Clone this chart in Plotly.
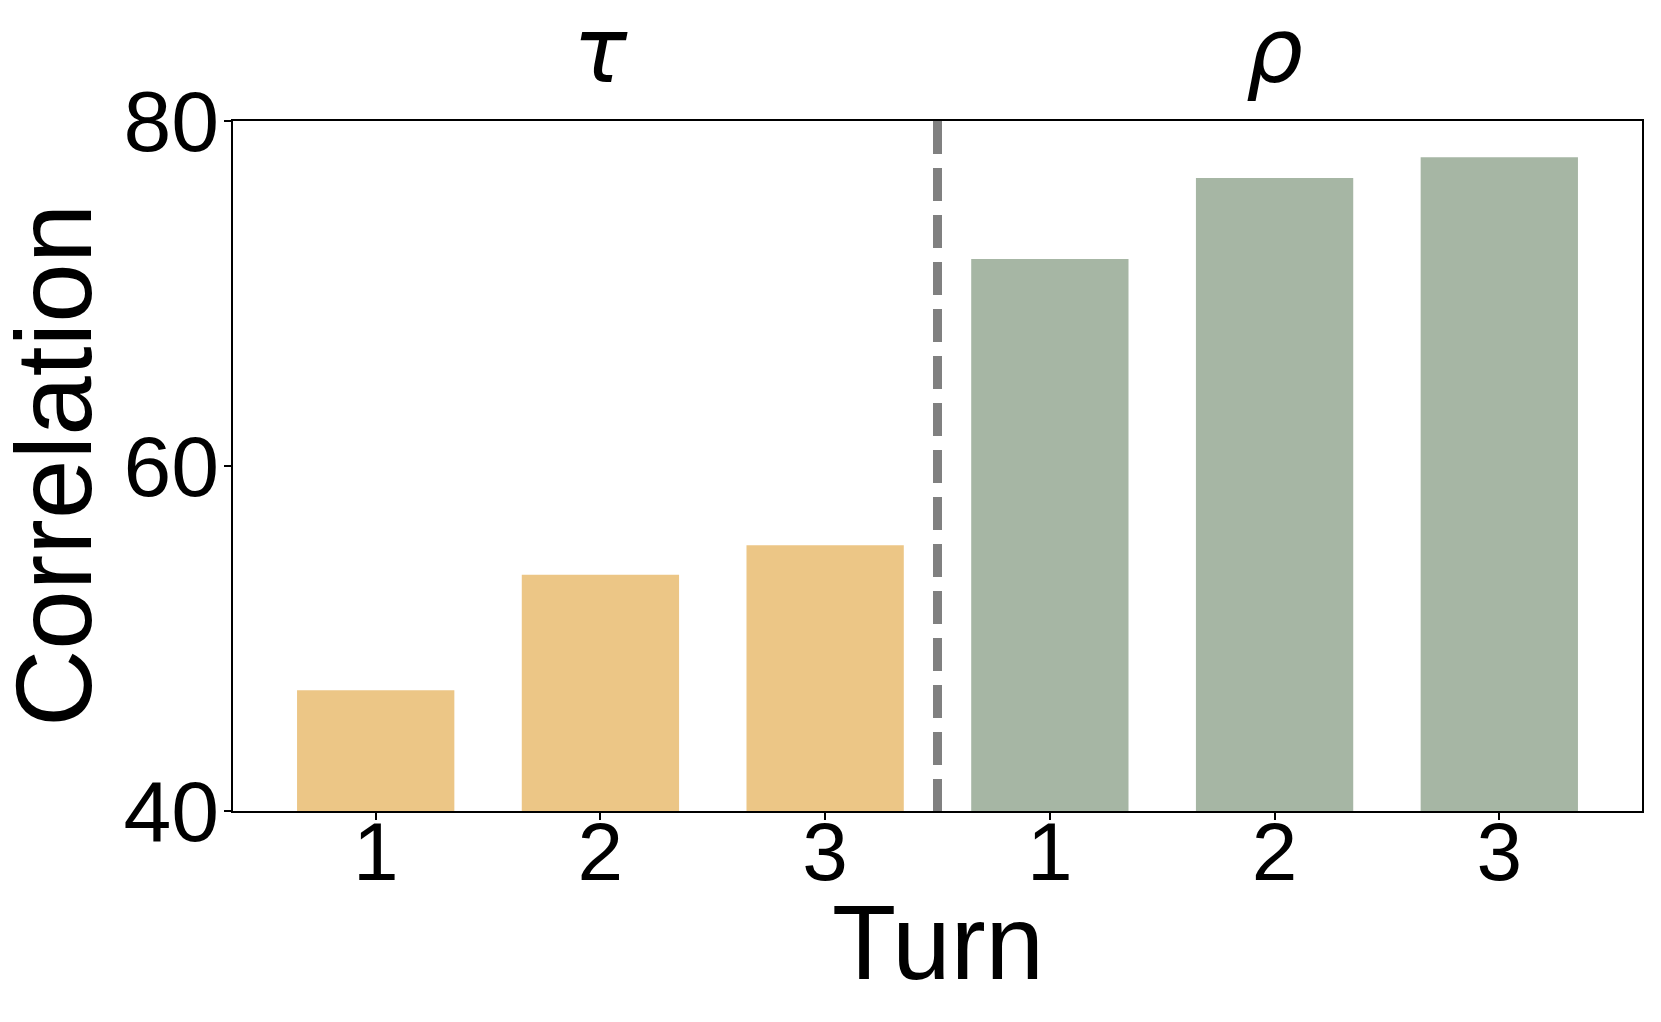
import plotly.graph_objects as go

# Data
turn_labels = ["1", "2", "3", "1", "2", "3"]
tau_values = [47.0, 53.7, 55.4]
rho_values = [72.0, 76.7, 77.9]
group_labels = ["τ", "ρ"]
y_ticks = [40, 60, 80]

tau_color = "#ecc686"
rho_color = "#a6b6a4"
font_family = "Liberation Sans, Arial, sans-serif"

tau_x = [0, 1, 2]
rho_x = [3, 4, 5]

fig = go.Figure()
fig.add_trace(go.Bar(x=tau_x, y=tau_values, marker=dict(color=tau_color, line=dict(width=0)),
                     width=0.7, showlegend=False))
fig.add_trace(go.Bar(x=rho_x, y=rho_values, marker=dict(color=rho_color, line=dict(width=0)),
                     width=0.7, showlegend=False))

# divider
fig.add_shape(type="line", xref="x", yref="paper", x0=2.5, x1=2.5, y0=1, y1=0,
              line=dict(color="#808080", width=9, dash="33px,14px"), layer="above")

# group labels
for gx, gl in zip([1, 4], group_labels):
    fig.add_annotation(x=gx, y=1.0, xref="x", yref="paper", text="<i>" + gl + "</i>",
                       showarrow=False, yanchor="bottom", yshift=16,
                       font=dict(family="DejaVu Sans", size=90, color="black"))

# axis titles
fig.add_annotation(x=0.5, y=-0.19, xref="paper", yref="paper", text="Turn",
                   showarrow=False, xanchor="center", yanchor="middle",
                   font=dict(family=font_family, size=105, color="black"))
fig.add_annotation(x=-0.127, y=0.5, xref="paper", yref="paper", text="Correlation",
                   showarrow=False, xanchor="center", yanchor="middle", textangle=-90,
                   font=dict(family=font_family, size=107, color="black"))

# the page body adds an 8px offset; size the figure to fit the window
fig.update_layout(
    width=1653, height=1014,
    margin=dict(l=225, r=19, t=113, b=211, autoexpand=False),
    paper_bgcolor="white", plot_bgcolor="white",
    font=dict(family=font_family, color="black"),
)
fig.update_xaxes(
    range=[-0.635, 5.635], automargin=False,
    tickvals=[0, 1, 2, 3, 4, 5], ticktext=turn_labels,
    tickfont=dict(size=82), ticks="outside", ticklen=7, tickwidth=1.5, tickcolor="black",
    ticklabelstandoff=-38,
    showline=True, linecolor="black", linewidth=1.5, mirror=True, showgrid=False, zeroline=False,
)
fig.update_yaxes(
    range=[40, 80], tickvals=y_ticks, automargin=False,
    tickfont=dict(size=86), ticks="outside", ticklen=7, tickwidth=1.5, tickcolor="black",
    ticklabelstandoff=-12,
    showline=True, linecolor="black", linewidth=1.5, mirror=True, showgrid=False, zeroline=False,
)

fig.write_html("out.html")
